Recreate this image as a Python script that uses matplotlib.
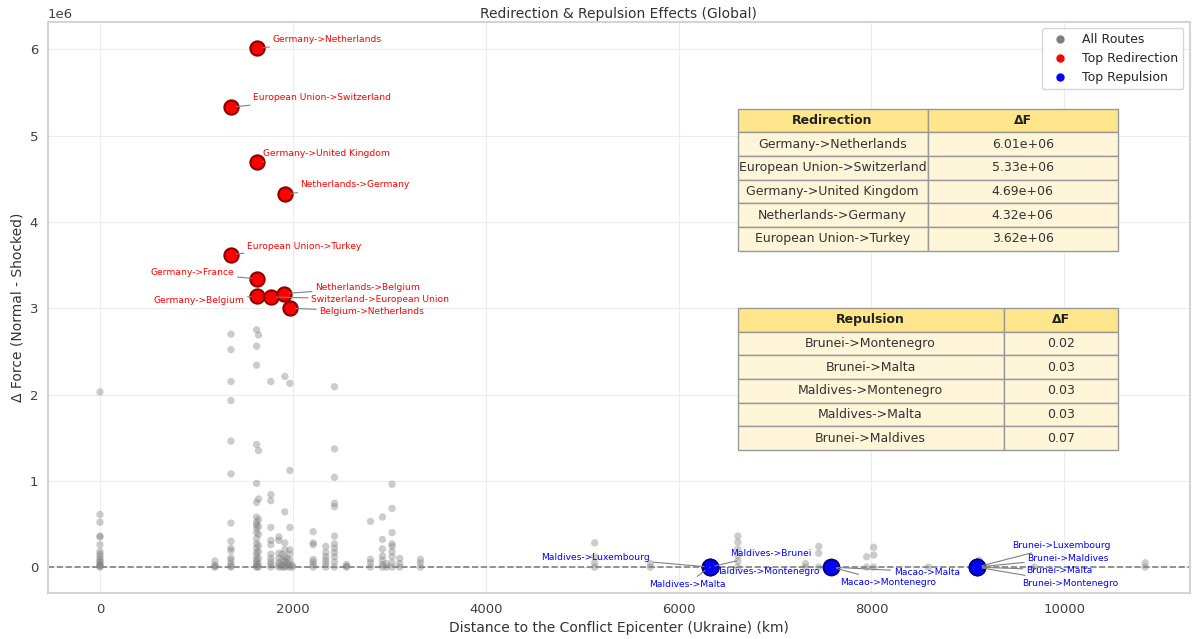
import matplotlib
matplotlib.use('Agg')
import matplotlib.pyplot as plt
import seaborn as sns
from matplotlib.lines import Line2D

# all routes: distance columns (km) and the delta force values in each column (x 1e6)
route_dist = [0, 1192, 1358, 1624, 1644, 1772, 1855, 1890, 1917, 1940, 1969, 1995,
              2211, 2342, 2432, 2556, 2805, 2929, 2971, 3029, 3109, 3323,
              5130, 5707, 6615, 7316, 7454, 7951, 8024, 8591, 9119, 9689, 10839]
route_dF = [
    [2.03, 0.61, 0.52, 0.36, 0.35, 0.26, 0.18, 0.15, 0.12, 0.09, 0.07, 0.05, 0.03, 0.02, 0.01, 0.0],
    [0.07, 0.02, 0.01, 0.0],
    [2.70, 2.52, 2.15, 1.93, 1.46, 1.08, 0.51, 0.30, 0.22, 0.19, 0.11, 0.08, 0.04, 0.01, 0.0],
    [2.75, 2.56, 2.34, 1.42, 0.97, 0.75, 0.58, 0.52, 0.49, 0.45, 0.40, 0.33, 0.27, 0.22,
     0.17, 0.13, 0.09, 0.06, 0.03, 0.01, 0.0],
    [2.69, 1.35, 0.79, 0.55, 0.47, 0.38, 0.25, 0.18, 0.10, 0.04, 0.0],
    [2.15, 0.84, 0.77, 0.46, 0.31, 0.26, 0.15, 0.10, 0.06, 0.03, 0.0],
    [0.35, 0.31, 0.16, 0.10, 0.05, 0.02, 0.0],
    [0.15, 0.08, 0.02, 0.0],
    [2.21, 0.64, 0.28, 0.20, 0.12, 0.07, 0.03, 0.0],
    [0.10, 0.05, 0.01],
    [2.13, 1.12, 0.46, 0.20, 0.15, 0.08, 0.03, 0.0],
    [0.02, 0.0],
    [0.41, 0.28, 0.26, 0.09, 0.06, 0.03, 0.0],
    [0.24, 0.17, 0.12, 0.08, 0.04, 0.0],
    [2.09, 1.37, 1.04, 0.74, 0.70, 0.36, 0.27, 0.22, 0.17, 0.12, 0.06, 0.0],
    [0.03, 0.01, 0.0],
    [0.53, 0.09, 0.05, 0.0],
    [0.58, 0.32, 0.21, 0.13, 0.08, 0.03, 0.0],
    [0.04, 0.0],
    [0.96, 0.68, 0.40, 0.27, 0.24, 0.18, 0.12, 0.05, 0.0],
    [0.10, 0.04, 0.0],
    [0.09, 0.05, 0.0],
    [0.28, 0.12, 0.05, 0.0],
    [0.04, 0.0],
    [0.36, 0.29, 0.21, 0.13, 0.07, 0.0],
    [0.04, 0.0],
    [0.24, 0.16, 0.0],
    [0.12, 0.0],
    [0.23, 0.14, 0.0],
    [0.0],
    [0.08, 0.0],
    [0.0],
    [0.05, 0.0],
]

# top redirection routes
redir_names = ['Germany->Netherlands', 'European Union->Switzerland', 'Germany->United Kingdom',
               'Netherlands->Germany', 'European Union->Turkey', 'Germany->France',
               'Germany->Belgium', 'Switzerland->European Union', 'Netherlands->Belgium',
               'Belgium->Netherlands']
redir_dist = [1627, 1358, 1627, 1917, 1358, 1627, 1627, 1772, 1907, 1969]
redir_dF = [6.01e6, 5.33e6, 4.69e6, 4.32e6, 3.62e6, 3.34e6, 3.14e6, 3.13e6, 3.17e6, 3.00e6]

# top repulsion routes
repul_names = ['Brunei->Montenegro', 'Brunei->Malta', 'Maldives->Montenegro', 'Maldives->Malta',
               'Brunei->Maldives', 'Brunei->Luxembourg', 'Maldives->Luxembourg',
               'Maldives->Brunei', 'Macao->Montenegro', 'Macao->Malta']
repul_dist = [9091, 9091, 6321, 6321, 9091, 9091, 6321, 6321, 7582, 7582]
repul_dF = [0.02, 0.03, 0.03, 0.03, 0.07, 0.09, 0.10, 0.11, 0.12, 0.13]

# label positions (data coords) - hand placed, like adjustText output
redir_text_xy = [(2358, 6.11e6), (2306, 5.44e6), (2347, 4.79e6), (2642, 4.43e6), (2119, 3.72e6),
                 (959, 3.41e6), (1026, 3.09e6), (2907, 3.10e6), (2777, 3.24e6), (2819, 2.96e6)]
repul_text_xy = [(10067, -0.186e6), (9948, -0.035e6), (6912, -0.046e6), (6088, -0.197e6),
                 (10041, 0.104e6), (9974, 0.255e6), (5140, 0.116e6), (6959, 0.162e6),
                 (8171, -0.174e6), (8575, -0.058e6)]

sns.set_style('whitegrid', {'grid.color': '#ececec', 'axes.edgecolor': '#d4d4d4'})
plt.rcParams['font.family'] = ['DejaVu Sans']

fig = plt.figure(figsize=(11.98, 6.39), dpi=100)
ax = fig.add_axes([0.040, 0.072, 0.953, 0.894])

# expand the columns of the background routes
xs, ys = [], []
for d, vals in zip(route_dist, route_dF):
    for v in vals:
        xs.append(d)
        ys.append(v * 1e6)

ax.scatter(xs, ys, s=28, color='gray', alpha=0.4, edgecolor='none', zorder=2)
ax.axhline(0, color='gray', ls='--', lw=1.2, zorder=1)

ax.scatter(redir_dist, redir_dF, s=105, color='red', edgecolor='darkred', lw=1.5, zorder=4)
ax.scatter(repul_dist, repul_dF, s=130, color='blue', edgecolor='navy', lw=1.2, zorder=4)

for name, d, f, (tx, ty) in zip(redir_names, redir_dist, redir_dF, redir_text_xy):
    ax.annotate(name, xy=(d, f), xytext=(tx, ty), fontsize=6.6, color='red',
                ha='center', va='center', zorder=5,
                arrowprops=dict(arrowstyle='-', color='gray', lw=0.8, shrinkA=0, shrinkB=4))

for name, d, f, (tx, ty) in zip(repul_names, repul_dist, repul_dF, repul_text_xy):
    ax.annotate(name, xy=(d, f), xytext=(tx, ty), fontsize=6.6, color='blue',
                ha='center', va='center', zorder=5,
                arrowprops=dict(arrowstyle='-', color='gray', lw=0.8, shrinkA=0, shrinkB=4))

ax.set_xlim(-540, 11300)
ax.set_ylim(-0.3e6, 6.32e6)
ax.set_xticks([0, 2000, 4000, 6000, 8000, 10000])
ax.tick_params(labelsize=9.5, colors='.25')
ax.set_title('Redirection & Repulsion Effects (Global)', fontsize=10, color='.2', pad=3)
ax.set_xlabel('Distance to the Conflict Epicenter (Ukraine) (km)', fontsize=10, color='.2')
ax.set_ylabel('Δ Force (Normal - Shocked)', fontsize=10, color='.2')
ax.yaxis.get_offset_text().set_fontsize(9.5)
ax.yaxis.get_offset_text().set_color('.25')
for sp in ax.spines.values():
    sp.set_linewidth(1.5)

# legend
handles = [Line2D([], [], marker='o', ls='', color='gray', ms=5),
           Line2D([], [], marker='o', ls='', color='red', ms=5),
           Line2D([], [], marker='o', ls='', color='blue', ms=5)]
ax.legend(handles, ['All Routes', 'Top Redirection', 'Top Repulsion'], loc='upper right',
          fontsize=9, frameon=True, borderaxespad=0.5)


def draw_table(ax, rows, header, bbox, col_widths):
    tbl = ax.table(cellText=rows, colLabels=header, cellLoc='center', bbox=bbox,
                   colWidths=col_widths, zorder=6)
    tbl.auto_set_font_size(False)
    tbl.set_fontsize(9)
    for (r, c), cell in tbl.get_celld().items():
        cell.set_edgecolor('#999999')
        cell.set_linewidth(1.0)
        if r == 0:
            cell.set_facecolor('#FFE58C')
            cell.get_text().set_fontweight('bold')
            cell.get_text().set_color('#222222')
        else:
            cell.set_facecolor('#FFF5D8')
            cell.get_text().set_color('#333333')
    return tbl


# top 5 tables built from the route arrays
order_r = sorted(range(len(redir_dF)), key=lambda i: -redir_dF[i])[:5]
redir_rows = [[redir_names[i], f'{redir_dF[i]:.2e}'] for i in order_r]
order_p = sorted(range(len(repul_dF)), key=lambda i: repul_dF[i])[:5]
repul_rows = [[repul_names[i], f'{repul_dF[i]:.2f}'] for i in order_p]

draw_table(ax, redir_rows, ['Redirection', 'ΔF'], [0.604, 0.599, 0.333, 0.249], [0.5, 0.5])
draw_table(ax, repul_rows, ['Repulsion', 'ΔF'], [0.604, 0.250, 0.333, 0.249], [0.7, 0.3])

fig.savefig('out.png', dpi=100)
